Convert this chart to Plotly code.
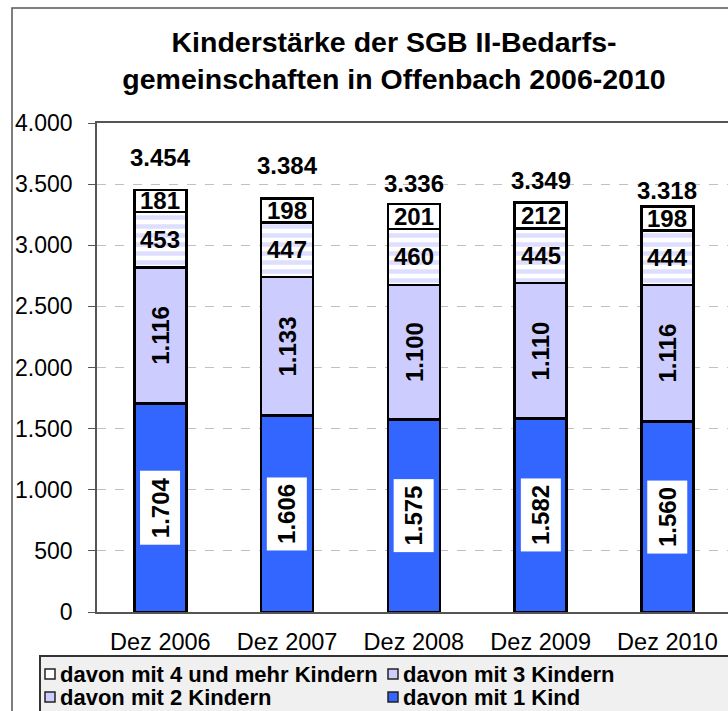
import plotly.graph_objects as go

categories = ["Dez 2006", "Dez 2007", "Dez 2008", "Dez 2009", "Dez 2010"]
kind1 = [1704, 1606, 1575, 1582, 1560]
kind2 = [1116, 1133, 1100, 1110, 1116]
kind3 = [453, 447, 460, 445, 444]
kind4 = [181, 198, 201, 212, 198]
totals = [3454, 3384, 3336, 3349, 3318]

names = ["davon mit 1 Kind", "davon mit 2 Kindern", "davon mit 3 Kindern", "davon mit 4 und mehr Kindern"]
colors = ["#3366ff", "#ccccff", "#ccccff", "#ffffff"]

# pixel offsets of the total labels above the bar tops (as placed in the original)
total_label_shift = [32, 33, 21, 22, 16]

def de(v):
    return f"{v:,}".replace(",", ".")

FONT = "Liberation Sans"
LBL = 24
line = dict(color="#000000", width=2.5)

# plot-area geometry in pixels (used to place legend-box items in paper coords)
W, H = 728, 711
ML, MT, MB = 97, 123, 99
PW, PH = W - ML, H - MT - MB

def px(x):
    return (x - ML) / PW

def py(y):
    return (H - MB - y) / PH

fig = go.Figure()
fig.add_trace(go.Bar(x=categories, y=kind1, name=names[0], marker=dict(color=colors[0], line=line)))
fig.add_trace(go.Bar(x=categories, y=kind2, name=names[1], marker=dict(color=colors[1], line=line)))
fig.add_trace(go.Bar(x=categories, y=kind3, name=names[2],
                     marker=dict(color="#ffffff", line=line,
                                 pattern=dict(shape="-", fgcolor="#bdbdff", bgcolor="#ffffff",
                                              size=9, solidity=0.5, fillmode="overlay"))))
fig.add_trace(go.Bar(x=categories, y=kind4, name=names[3], marker=dict(color=colors[3], line=line)))
fig.update_traces(showlegend=False)

ann = []
for i, c in enumerate(categories):
    b1 = kind1[i]
    b2 = b1 + kind2[i]
    b3 = b2 + kind3[i]
    b4 = b3 + kind4[i]
    ann.append(dict(x=c, y=b1 / 2, text=f"<b>{de(kind1[i])}</b>", textangle=-90, showarrow=False,
                    bgcolor="#ffffff", borderpad=6, font=dict(size=LBL, color="#000", family=FONT)))
    ann.append(dict(x=c, y=(b1 + b2) / 2, text=f"<b>{de(kind2[i])}</b>", textangle=-90, showarrow=False,
                    font=dict(size=LBL, color="#000", family=FONT)))
    ann.append(dict(x=c, y=(b2 + b3) / 2, text=f"<b>{de(kind3[i])}</b>", showarrow=False,
                    font=dict(size=LBL, color="#000", family=FONT)))
    ann.append(dict(x=c, y=(b3 + b4) / 2, text=f"<b>{de(kind4[i])}</b>", showarrow=False,
                    font=dict(size=LBL, color="#000", family=FONT)))
    ann.append(dict(x=c, y=totals[i], text=f"<b>{de(totals[i])}</b>", showarrow=False,
                    yshift=total_label_shift[i],
                    font=dict(size=LBL, color="#000", family=FONT)))

shapes = [
    # outer chart border
    dict(type="rect", xref="paper", yref="paper", x0=px(12), x1=px(760), y0=py(760), y1=py(8),
         line=dict(color="#555555", width=1.5), fillcolor="rgba(0,0,0,0)", layer="below"),
    # legend box
    dict(type="rect", xref="paper", yref="paper", x0=px(40), x1=px(760), y0=py(760), y1=py(656),
         line=dict(color="#333333", width=2), fillcolor="#f0f0f0", layer="above"),
]

# legend entries (order and placement as in the original: 2 columns x 2 rows)
legend_order = [3, 2, 1, 0]
col_x = [45, 388]
row_y = [674, 697]
for k, idx in enumerate(legend_order):
    cx = col_x[k % 2]
    cy = row_y[k // 2]
    shapes.append(dict(type="rect", xref="paper", yref="paper",
                       x0=px(cx), x1=px(cx + 10), y0=py(cy + 5), y1=py(cy - 5),
                       line=dict(color="#222222", width=1.5), fillcolor=colors[idx], layer="above"))
    ann.append(dict(xref="paper", yref="paper", x=px(cx + 13), y=py(cy), xanchor="left", yanchor="middle",
                    text=f"<b>{names[idx]}</b>", showarrow=False,
                    font=dict(size=22, color="#000", family=FONT)))

fig.update_layout(
    width=W, height=H,
    margin=dict(l=ML, r=0, t=MT, b=MB, autoexpand=False),
    paper_bgcolor="#ffffff", plot_bgcolor="#ffffff",
    barmode="stack", bargap=0.59,
    separators=",.",
    showlegend=False,
    font=dict(family=FONT, size=23.5, color="#000"),
    title=dict(text="<b>Kinderstärke der SGB II-Bedarfs-<br>gemeinschaften in Offenbach 2006-2010</b>",
               x=394 / 728, xref="container", xanchor="center", y=1 - 52 / 711, yref="container",
               yanchor="middle", font=dict(size=28.5, family=FONT, color="#000")),
    xaxis=dict(range=[-0.5, 4.478], showline=True, linecolor="#555555", linewidth=1.5, mirror=True,
               ticks="", tickfont=dict(size=23.5), ticklabelstandoff=8, automargin=False),
    yaxis=dict(range=[0, 4000], tickvals=[0, 500, 1000, 1500, 2000, 2500, 3000, 3500, 4000],
               tickformat=",d", showline=True, linecolor="#555555", linewidth=1.5,
               ticks="outside", ticklen=7, tickcolor="#555555", ticklabelstandoff=11,
               showgrid=True, gridcolor="#c0c0c0", griddash="dash", gridwidth=1,
               tickfont=dict(size=23), zeroline=False, automargin=False),
    annotations=ann,
    shapes=shapes,
)

fig.write_html("out.html", config={"displayModeBar": False},
               post_script="document.body.style.margin='0';document.body.style.padding='0';")
